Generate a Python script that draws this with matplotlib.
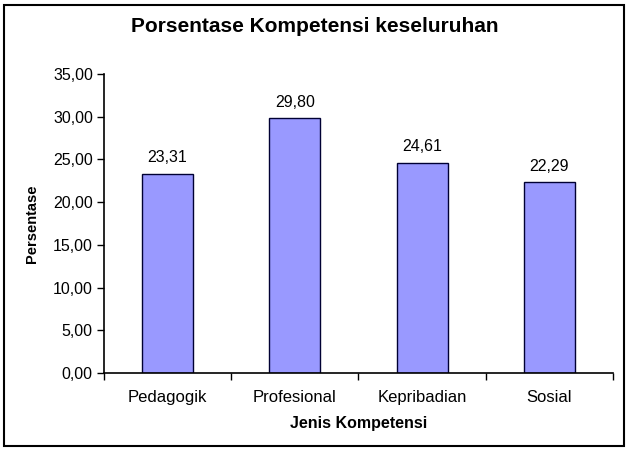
import matplotlib.pyplot as plt
from matplotlib.patches import Rectangle
from matplotlib.ticker import FuncFormatter, MultipleLocator

plt.rcParams['font.family'] = ['Liberation Sans', 'DejaVu Sans']

# data
kategori = ['Pedagogik', 'Profesional', 'Kepribadian', 'Sosial']
persentase = [23.31, 29.80, 24.61, 22.29]

fig = plt.figure(figsize=(6.3, 4.5), dpi=100)
ax = fig.add_axes([0.165, 0.171, 0.808, 0.665])

pos = range(len(kategori))
bars = ax.bar(pos, persentase, width=0.4, color='#9999FF', edgecolor='#000033', linewidth=1.0)

for b, v in zip(bars, persentase):
    ax.text(b.get_x() + b.get_width() / 2, v + 1.0, f'{v:.2f}'.replace('.', ','),
            ha='center', va='bottom', fontsize=11.5)

ax.set_xlim(-0.5, len(kategori) - 0.5)
ax.set_ylim(0, 35)
ax.yaxis.set_major_locator(MultipleLocator(5))
ax.yaxis.set_major_formatter(FuncFormatter(lambda y, _: f'{y:.2f}'.replace('.', ',')))

# kategori labels di tengah, tick di batas
ax.set_xticks([p - 0.5 for p in range(len(kategori) + 1)])
ax.set_xticklabels([])
ax.set_xticks(list(pos), minor=True)
ax.set_xticklabels(kategori, minor=True, fontsize=12)
ax.tick_params(axis='x', which='minor', length=0, pad=12)
ax.tick_params(axis='x', which='major', length=5, direction='out', width=1)
ax.tick_params(axis='y', length=5, width=1, labelsize=11.5, pad=3)

for s in ['top', 'right']:
    ax.spines[s].set_visible(False)
for s in ['left', 'bottom']:
    ax.spines[s].set_linewidth(1.2)

ax.set_ylabel('Persentase', fontsize=10.5, fontweight='bold', labelpad=10)
ax.set_xlabel('Jenis Kompetensi', fontsize=11.5, fontweight='bold', labelpad=8)
fig.text(0.5, 0.94, 'Porsentase Kompetensi keseluruhan', ha='center', va='center',
         fontsize=15, fontweight='bold')

fig.patches.append(Rectangle((0.006, 0.01), 0.985, 0.98, transform=fig.transFigure,
                             fill=False, edgecolor='black', linewidth=1.5))

fig.savefig('out.png', dpi=100)
